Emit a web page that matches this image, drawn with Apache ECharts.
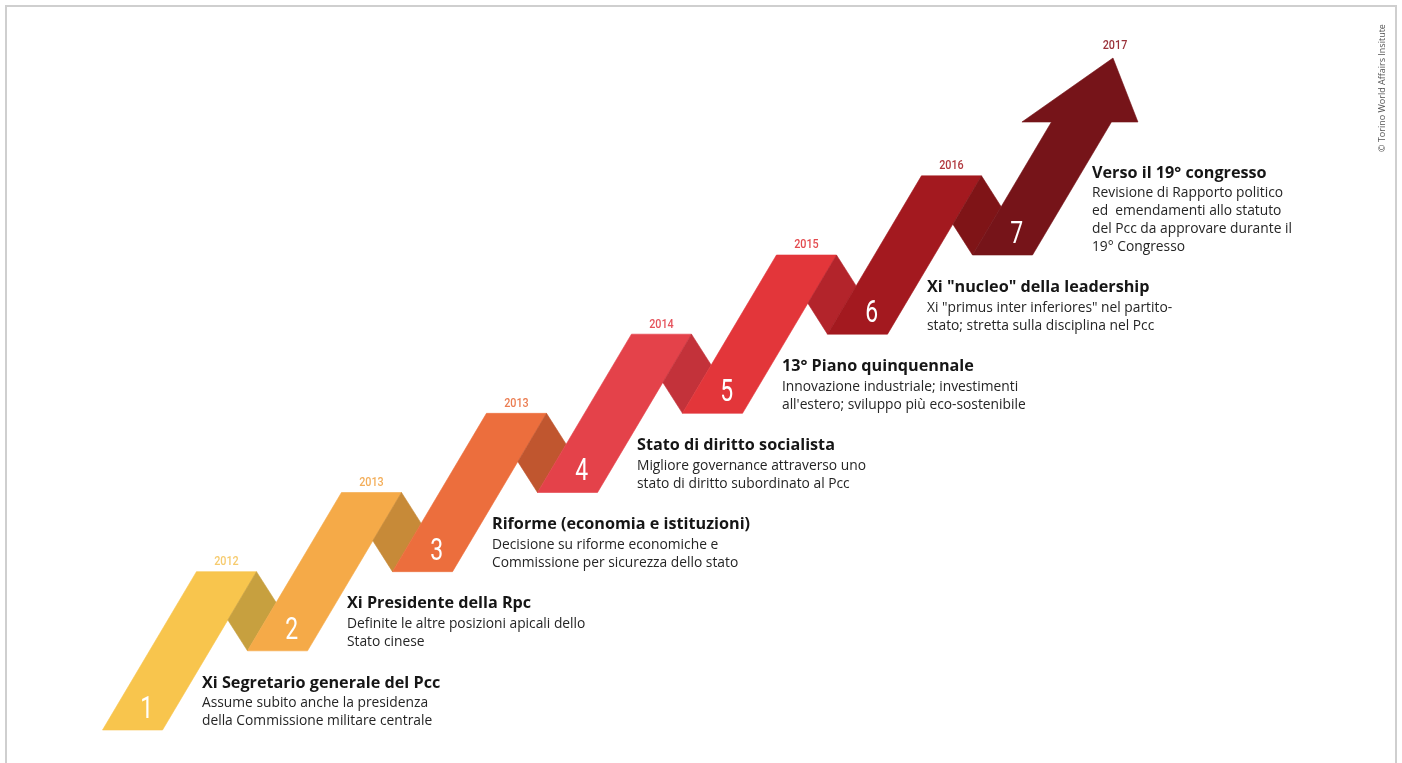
<!DOCTYPE html>
<html>
<head>
<meta charset="utf-8">
<script src="https://cdn.jsdelivr.net/npm/echarts@6/dist/echarts.min.js"></script>
<style>
html,body{margin:0;padding:0;background:#fff;}
#chart{width:1402px;height:763px;}
</style>
</head>
<body>
<div id="chart"></div>
<script>
// ---- data ----
const steps = [1, 2, 3, 4, 5, 6, 7];
const years = ['2012', '2013', '2013', '2014', '2015', '2016', '2017'];
const titles = [
  'Xi Segretario generale del Pcc',
  'Xi Presidente della Rpc',
  'Riforme (economia e istituzioni)',
  'Stato di diritto socialista',
  '13° Piano quinquennale',
  'Xi "nucleo" della leadership',
  'Verso il 19° congresso'
];
const descriptions = [
  ['Assume subito anche la presidenza', 'della Commissione militare centrale'],
  ['Definite le altre posizioni apicali dello', 'Stato cinese'],
  ['Decisione su riforme economiche e', 'Commissione per sicurezza dello stato'],
  ['Migliore governance attraverso uno', 'stato di diritto subordinato al Pcc'],
  ['Innovazione industriale; investimenti', "all'estero; sviluppo più eco-sostenibile"],
  ['Xi "primus inter inferiores" nel partito-', 'stato; stretta sulla disciplina nel Pcc'],
  ['Revisione di Rapporto politico', 'ed  emendamenti allo statuto', 'del Pcc da approvare durante il', '19° Congresso']
];
const credit = '© Torino World Affairs Insitute';

// ---- styles ----
const bandColors = ['#F8C54D', '#F5AA48', '#EC6E3D', '#E4424A', '#E3363A', '#A3191F', '#761419'];
const foldColors = ['#C7A03F', '#C78A38', '#C0562F', '#C3323A', '#B3242B', '#7F1417', null];
const yearColors = ['#F6CB6E', '#F3AE5A', '#EB7D52', '#E5535C', '#E34A4E', '#B1393F', '#9A3139'];

const S = 0.648;   // slant of a band (x units over 2 levels)
const W = 0.414;   // band width (x units)
const T = 0.305;   // fold depth fraction

const chart = echarts.init(document.getElementById('chart'), null, {renderer: 'canvas'});

function poly(api, pts, color) {
  return {
    type: 'polygon',
    shape: {points: pts.map(p => api.coord(p))},
    style: {fill: color, stroke: color, lineWidth: 0.6}
  };
}
function txt(x, y, text, font, fill, align, vAlign, extra) {
  return Object.assign({
    type: 'text', x: x, y: y,
    style: {text: text, font: font, fill: fill,
      textAlign: align, textVerticalAlign: vAlign, align: align, verticalAlign: vAlign}
  }, extra || {});
}

function renderItem(params, api) {
  const i = params.dataIndex;
  const k = api.value(0);
  const last = i === steps.length - 1;
  const children = [];
  if (!last) {
    children.push(poly(api, [[k, k], [k + W, k], [k + W + S, k + 2], [k + S, k + 2]], bandColors[i]));
    children.push(poly(api, [
      [k + S + W, k + 2],
      [k + 1 + S * T, k + 1 + 2 * T],
      [k + 1, k + 1],
      [k + S + W - S * T, k + 2 - 2 * T]
    ], foldColors[i]));
    const yp = api.coord([k + S + W / 2, k + 2]);
    children.push(txt(yp[0], yp[1] - 10, years[i], '500 13.5px Roboto', yearColors[i], 'center', 'middle', {scaleX: 0.8}));
  } else {
    const h = 1.68;
    children.push(poly(api, [
      [k, k], [k + W, k], [k + W + S * h / 2, k + h],
      [k + 1.141, k + h], [k + 0.969, k + 2.488], [k + 0.341, k + h],
      [k + S * h / 2, k + h]
    ], bandColors[i]));
    const tp = api.coord([k + 0.969, k + 2.488]);
    children.push(txt(tp[0] + 2, tp[1] - 12, years[i], '500 13.5px Roboto', yearColors[i], 'center', 'middle', {scaleX: 0.8}));
  }
  // step number
  const np = api.coord([k + 0.305, k + 0.25]);
  children.push(txt(np[0], np[1], String(steps[i]), '400 31px Roboto', '#ffffff', 'center', 'middle', {scaleX: 0.74}));
  // title + description
  const tpos = last ? api.coord([k + 0.824, k + 1.035]) : api.coord([k + 0.686, k + 0.594]);
  children.push(txt(tpos[0], tpos[1], titles[i], 'bold 16.2px "Open Sans"', '#161616', 'left', 'middle'));
  descriptions[i].forEach((line, j) => {
    children.push(txt(tpos[0], tpos[1] + 20.5 + j * 18, line, '13.8px "Open Sans"', '#252525', 'left', 'middle'));
  });
  return {type: 'group', children: children};
}

chart.setOption({
  animation: false,
  grid: {left: 30, right: 67, top: 17.5, bottom: 33},
  xAxis: {type: 'value', min: 0.5, max: 9.5, show: false},
  yAxis: {type: 'value', min: 1, max: 10, show: false},
  graphic: [
    {type: 'rect', shape: {x: 6, y: 6, width: 1390, height: 800},
      style: {fill: 'none', stroke: '#cfcfcf', lineWidth: 2}, silent: true},
    {type: 'text', x: 1382, y: 88, rotation: Math.PI / 2,
      style: {text: credit, font: '9px "Open Sans"', fill: '#555', textAlign: 'center', textVerticalAlign: 'middle', align: 'center', verticalAlign: 'middle'}}
  ],
  series: [{
    type: 'custom',
    clip: false,
    renderItem: renderItem,
    data: steps.map(k => [k, k])
  }]
});
</script>
</body>
</html>
